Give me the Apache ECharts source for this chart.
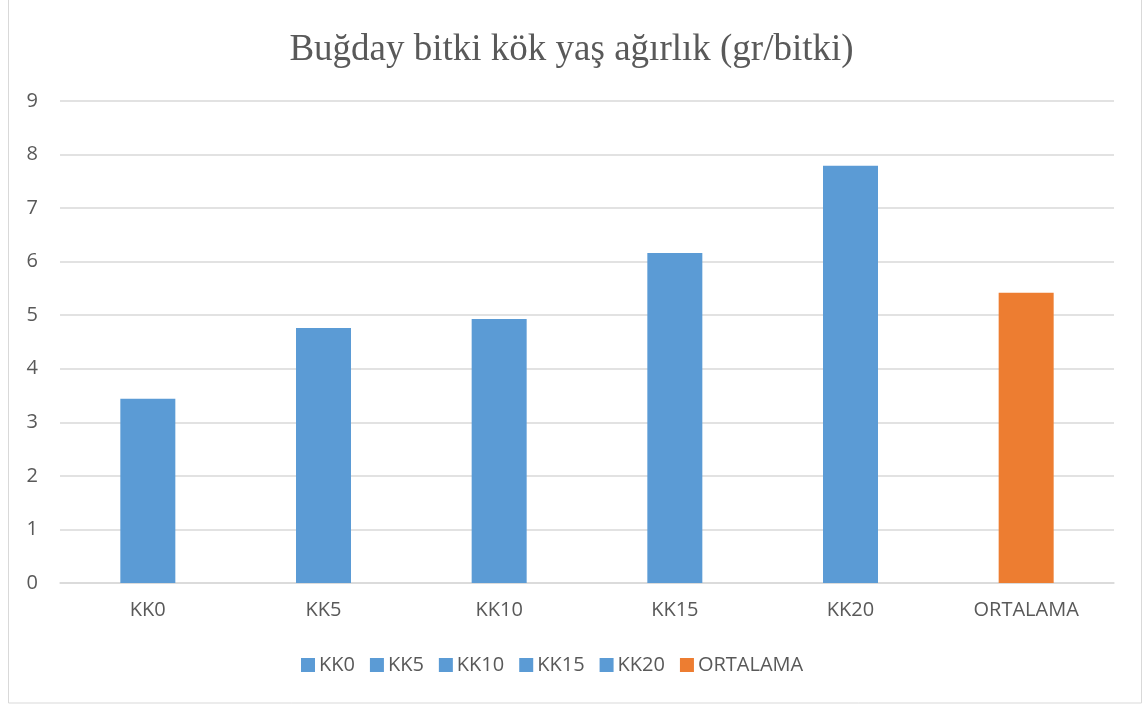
<!DOCTYPE html>
<html>
<head>
<meta charset="utf-8">
<script src="https://cdn.jsdelivr.net/npm/echarts@6/dist/echarts.min.js"></script>
<style>
  html, body { margin: 0; padding: 0; background: #fff; }
  #chart { width: 1143px; height: 704px; }
</style>
</head>
<body>
<div id="chart"></div>
<script>
// Data
const categories = ["KK0", "KK5", "KK10", "KK15", "KK20", "ORTALAMA"];
const values = [3.44, 4.76, 4.93, 6.16, 7.79, 5.42];
const colors = ["#5b9bd5", "#5b9bd5", "#5b9bd5", "#5b9bd5", "#5b9bd5", "#ed7d31"];
const yTicks = [0, 1, 2, 3, 4, 5, 6, 7, 8, 9];

// one series per category so the legend lists each bar
const series = categories.map((name, i) => ({
  name: name,
  type: 'bar',
  stack: 'one',
  barWidth: 55,
  itemStyle: { color: colors[i] },
  data: values.map((v, j) => (j === i ? v : '-'))
}));

const chart = echarts.init(document.getElementById('chart'));
chart.setOption({
  animation: false,
  title: {
    text: "Buğday bitki kök yaş ağırlık (gr/bitki)",
    left: 'center',
    top: 27,
    textStyle: {
      fontFamily: 'Liberation Serif',
      fontSize: 37,
      fontWeight: 'normal',
      color: '#595959'
    }
  },
  graphic: [{
    type: 'rect',
    shape: { x: 8.5, y: -1, width: 1133, height: 704 },
    style: { fill: 'none', stroke: '#d9d9d9', lineWidth: 1 },
    silent: true
  }],
  legend: {
    data: categories,
    bottom: 24,
    left: 296,
    icon: 'rect',
    itemWidth: 14,
    itemHeight: 14,
    itemGap: 15,
    textStyle: { fontFamily: 'Open Sans', fontSize: 20, color: '#595959', padding: [0, 0, 0, -1] }
  },
  grid: { left: 60, right: 29, top: 101, bottom: 121 },
  xAxis: {
    type: 'category',
    data: categories,
    axisLine: { lineStyle: { color: '#d9d9d9', width: 1.5 } },
    axisTick: { show: false },
    axisLabel: { fontFamily: 'Open Sans', fontSize: 20, color: '#595959', margin: 17 }
  },
  yAxis: {
    type: 'value',
    min: yTicks[0],
    max: yTicks[yTicks.length - 1],
    interval: 1,
    axisLine: { show: false },
    axisTick: { show: false },
    splitLine: { lineStyle: { color: '#d9d9d9', width: 1.5 } },
    axisLabel: { fontFamily: 'Open Sans', fontSize: 20, color: '#595959', margin: 22 }
  },
  series: series
});
</script>
</body>
</html>
